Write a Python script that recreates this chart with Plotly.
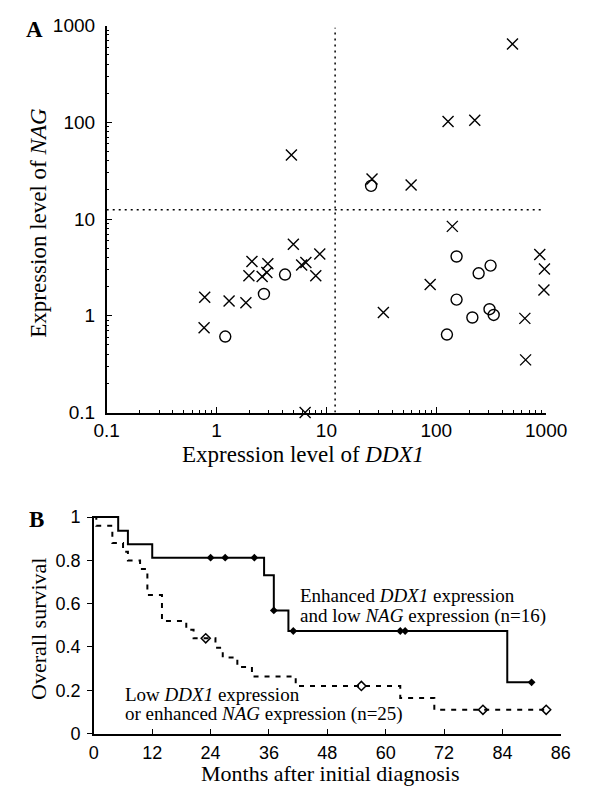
import plotly.graph_objects as go

# ---------------- Panel A data ----------------
cross_ddx1 = [0.78, 0.77, 1.3, 1.85, 1.97, 2.1, 2.6, 2.87, 2.93, 5.0, 5.95, 6.5, 8.7, 8.0, 6.4,
              4.8, 26, 59, 128, 224, 494, 33, 88, 140, 875, 965, 955, 640, 650]
cross_nag = [1.55, 0.75, 1.42, 1.36, 2.6, 3.65, 2.55, 2.8, 3.45, 5.5, 3.35, 3.55, 4.35, 2.6, 0.1,
             46, 26, 22.5, 102, 105, 645, 1.08, 2.1, 8.4, 4.3, 3.05, 1.85, 0.94, 0.35]
circle_ddx1 = [1.2, 2.7, 4.2, 25.5, 153, 153, 125, 213, 243, 312, 305, 333]
circle_nag = [0.61, 1.68, 2.67, 22, 4.1, 1.47, 0.64, 0.96, 2.75, 3.3, 1.17, 1.02]
ddx1_cut = 12
nag_cut = 12.5
line_ext = [0.1, 950]
log_ticks = [0.1, 1, 10, 100, 1000]
log_tick_text = ["0.1", "1", "10", "100", "1000"]

# ---------------- Panel B data ----------------
hi_months = [0, 5, 7, 12, 35, 37, 40, 85, 90]
hi_surv = [1, 0.9375, 0.875, 0.8125, 0.731, 0.569, 0.474, 0.237, 0.237]
hi_cens_m = [24, 27, 33, 37, 41, 63, 64, 90]
hi_cens_s = [0.8125, 0.8125, 0.8125, 0.569, 0.474, 0.474, 0.474, 0.237]

lo_months = [0, 0.5, 3.8, 6, 7, 9.5, 11, 14, 19, 20.5, 25, 26.5, 29.5, 32.5, 41.5, 63, 70, 93]
lo_surv = [1, 0.96, 0.88, 0.84, 0.80, 0.76, 0.64, 0.52, 0.48, 0.44, 0.396, 0.352, 0.308, 0.264,
           0.22, 0.165, 0.11, 0.11]
lo_cens_m = [23, 55, 80, 93]
lo_cens_s = [0.44, 0.22, 0.11, 0.11]

month_ticks = [0, 12, 24, 36, 48, 60, 72, 84, 96]
month_text = ["0", "12", "24", "36", "48", "60", "72", "84", "86"]
surv_ticks = [0, 0.2, 0.4, 0.6, 0.8, 1]
surv_text = ["0", "0.2", "0.4", "0.6", "0.8", "1"]

W, H = 603, 804
def px(x):
    return x / W
def py(y):
    return 1 - y / H

fig = go.Figure()

# Panel A
fig.add_trace(go.Scatter(x=line_ext, y=[nag_cut, nag_cut], mode="lines",
                         line=dict(color="black", width=1.5, dash="2px,4px"),
                         xaxis="x", yaxis="y", showlegend=False, hoverinfo="skip"))
fig.add_trace(go.Scatter(x=[ddx1_cut, ddx1_cut], y=line_ext, mode="lines",
                         line=dict(color="black", width=1.5, dash="2px,4px"),
                         xaxis="x", yaxis="y", showlegend=False, hoverinfo="skip"))
fig.add_trace(go.Scatter(x=cross_ddx1, y=cross_nag, mode="markers",
                         marker=dict(symbol="x-thin", size=11, line=dict(color="black", width=1.4)),
                         xaxis="x", yaxis="y", showlegend=False, cliponaxis=False))
fig.add_trace(go.Scatter(x=circle_ddx1, y=circle_nag, mode="markers",
                         marker=dict(symbol="circle-open", size=11, color="black",
                                     line=dict(color="black", width=1.4)),
                         xaxis="x", yaxis="y", showlegend=False, cliponaxis=False))

# Panel B
fig.add_trace(go.Scatter(x=hi_months, y=hi_surv, mode="lines", line_shape="hv",
                         line=dict(color="black", width=2),
                         xaxis="x2", yaxis="y2", showlegend=False, cliponaxis=False))
fig.add_trace(go.Scatter(x=lo_months, y=lo_surv, mode="lines", line_shape="hv",
                         line=dict(color="black", width=2, dash="5px,6px"),
                         xaxis="x2", yaxis="y2", showlegend=False, cliponaxis=False))
fig.add_trace(go.Scatter(x=hi_cens_m, y=hi_cens_s, mode="markers",
                         marker=dict(symbol="diamond", size=6, color="black"),
                         xaxis="x2", yaxis="y2", showlegend=False, cliponaxis=False))
fig.add_trace(go.Scatter(x=lo_cens_m, y=lo_cens_s, mode="markers",
                         marker=dict(symbol="diamond-open", size=7, color="black",
                                     line=dict(width=1.5)),
                         xaxis="x2", yaxis="y2", showlegend=False, cliponaxis=False))

sans = "Liberation Sans, Arial, sans-serif"
tickfontA = dict(family=sans, size=19, color="black")
tickfontB = dict(family=sans, size=18, color="black")
minor_vals = [m * 10 ** e for e in range(-1, 3) for m in range(2, 10)]

common = dict(showline=True, linecolor="black", linewidth=1.5, showgrid=False,
              zeroline=False, tickcolor="black", tickwidth=1.2)

fig.update_layout(
    width=W, height=H, margin=dict(l=0, r=0, t=0, b=0),
    paper_bgcolor="white", plot_bgcolor="white",
    xaxis=dict(type="log", range=[-1, 3], domain=[px(99.3), px(565)], anchor="y",
               tickmode="array", tickvals=log_ticks, ticktext=log_tick_text,
               ticks="inside", ticklen=6, ticklabelstandoff=0, tickfont=tickfontA,
               minor=dict(tickmode="array", tickvals=minor_vals, ticks="inside", ticklen=3,
                          tickcolor="black", showgrid=False),
               **common),
    yaxis=dict(type="log", range=[-1, 3], domain=[py(413.3), py(16)], anchor="x",
               tickmode="array", tickvals=log_ticks, ticktext=log_tick_text,
               ticks="inside", ticklen=6, ticklabelstandoff=6, tickfont=tickfontA,
               minor=dict(tickmode="array", tickvals=minor_vals, ticks="inside", ticklen=3,
                          tickcolor="black", showgrid=False),
               **common),
    xaxis2=dict(range=[0, 96], domain=[px(85.7), px(580.5)], anchor="y2",
                tickmode="array", tickvals=month_ticks, ticktext=month_text,
                ticks="inside", ticklen=5, ticklabelstandoff=2, tickfont=tickfontB, **common),
    yaxis2=dict(range=[0, 1.005], domain=[py(743), py(519.6)], anchor="x2",
                tickmode="array", tickvals=surv_ticks, ticktext=surv_text,
                ticks="outside", ticklen=5, ticklabelstandoff=3, tickfont=tickfontB, **common),
)

serif = "Liberation Serif, Times New Roman, serif"
def ann(text, x, y, size=21, xanchor="center", angle=0, bold=False):
    fig.add_annotation(text=("<b>%s</b>" % text) if bold else text,
                       x=px(x), y=py(y), xref="paper", yref="paper",
                       xanchor=xanchor, yanchor="middle", showarrow=False, textangle=angle,
                       font=dict(family=serif, size=size, color="black"))

ann("A", 23, 20, size=23, bold=True)
ann("B", 25, 523, size=23, bold=True)
ann("Expression level of <i>DDX1</i>", 307, 456, size=23)
ann("Expression level of <i>NAG</i>", 27, 218, size=23, angle=-90)
ann("Months after initial diagnosis", 336, 784, size=22)
ann("Overall survival", 27, 635, size=22, angle=-90)
ann("Enhanced <i>DDX1</i> expression", 302, 601, size=19, xanchor="left")
ann("and low <i>NAG</i> expression (n=16)", 302, 622, size=19, xanchor="left")
ann("Low <i>DDX1</i> expression", 117, 703, size=19, xanchor="left")
ann("or enhanced <i>NAG</i> expression (n=25)", 117, 723, size=19, xanchor="left")

fig.write_html("out.html")
